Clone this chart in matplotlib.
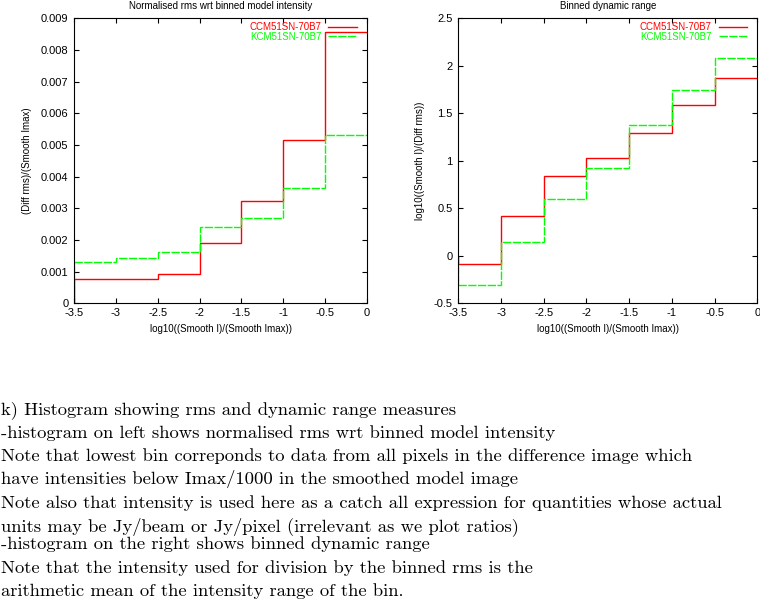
import numpy as np
import matplotlib
matplotlib.use('Agg')
import matplotlib.pyplot as plt

# bin edges in log10(Smooth I / Smooth Imax)
edges = [-3.5, -3.0, -2.5, -2.0, -1.5, -1.0, -0.5, 0.0]

# normalised rms per bin
rms_ccm = [0.00076, 0.00076, 0.00092, 0.00189, 0.00322, 0.00515, 0.00856]
rms_kcm = [0.00129, 0.00142, 0.00161, 0.00240, 0.00268, 0.00365, 0.00531]

# binned dynamic range per bin
dr_ccm = [-0.089, 0.416, 0.837, 1.026, 1.289, 1.584, 1.868]
dr_kcm = [-0.311, 0.142, 0.595, 0.921, 1.374, 1.742, 2.079]

labels = ['CCM51SN-70B7', 'KCM51SN-70B7']
xticks = [-3.5, -3, -2.5, -2, -1.5, -1, -0.5, 0]

caption = [
    'k) Histogram showing rms and dynamic range measures',
    '-histogram on left shows normalised rms wrt binned model intensity',
    'Note that lowest bin correponds to data from all pixels in the difference image which',
    'have intensities below Imax/1000 in the smoothed model image',
    'Note also that intensity is used here as a catch all expression for quantities whose actual',
    'units may be Jy/beam or Jy/pixel (irrelevant as we plot ratios)',
    '-histogram on the right shows binned dynamic range',
    'Note that the intensity used for division by the binned rms is the',
    'arithmetic mean of the intensity range of the bin.',
]
caption_y = [414, 437.7, 461, 484.3, 507.7, 531, 549.3, 572.7, 596]

plt.rcParams['font.family'] = ['Liberation Sans', 'DejaVu Sans']
plt.rcParams['font.size'] = 7

W, H = 760, 599
fig = plt.figure(figsize=(W / 100, H / 100), dpi=100)

def px_axes(x0, x1, y0, y1):
    return fig.add_axes([x0 / W, 1 - y1 / H, (x1 - x0) / W, (y1 - y0) / H])

ax1 = px_axes(74, 367, 18.3, 303.3)
ax2 = px_axes(458.3, 757.3, 18.3, 303.3)

RED = '#ff0000'
GREEN = '#00ff00'
green_dash = (0, (6, 1))

def style(ax):
    for s in ax.spines.values():
        s.set_linewidth(0.8)
        s.set_zorder(5)
    ax.tick_params(direction='in', top=True, right=True, length=3.6, width=0.8,
                   labelsize=8)
    ax.tick_params(axis='x', pad=3.5)
    ax.tick_params(axis='y', pad=4)
    ax.set_xlim(-3.5, 0)
    ax.set_xticks(xticks)
    ax.set_xticklabels(['%g' % t for t in xticks])

def histeps(ax, vals, color, ls, label):
    # steps with a rise from zero at the left edge, like gnuplot histeps
    ax.stairs(vals, edges, baseline=None, color=color, lw=1.0, ls=ls, label=label)
    ax.vlines(edges[0], 0, vals[0], color=color, lw=1.0, ls=ls)

histeps(ax1, rms_ccm, RED, '-', labels[0])
histeps(ax1, rms_kcm, GREEN, green_dash, labels[1])
ax1.set_ylim(0, 0.009)
ax1.set_yticks(np.arange(0, 0.0091, 0.001))
ax1.set_yticklabels(['0'] + ['%.3f' % v for v in np.arange(0.001, 0.0091, 0.001)])
style(ax1)
ax1.set_title('Normalised rms wrt binned model intensity', fontsize=7, pad=7)
ax1.set_xlabel('log10((Smooth I)/(Smooth Imax))', fontsize=7, labelpad=4)
ax1.set_ylabel('(Diff rms)/(Smooth Imax)', fontsize=7, labelpad=6)

histeps(ax2, dr_ccm, RED, '-', labels[0])
histeps(ax2, dr_kcm, GREEN, green_dash, labels[1])
ax2.set_ylim(-0.5, 2.5)
ax2.set_yticks([-0.5, 0, 0.5, 1, 1.5, 2, 2.5])
ax2.set_yticklabels(['-0.5', '0', '0.5', '1', '1.5', '2', '2.5'])
style(ax2)
ax2.set_title('Binned dynamic range', fontsize=7, pad=7)
ax2.set_xlabel('log10((Smooth I)/(Smooth Imax))', fontsize=7, labelpad=4)
ax2.set_ylabel('log10((Smooth I)/(Diff rms))', fontsize=7, labelpad=6)

for ax in (ax1, ax2):
    bw = ax.bbox.width
    bh = ax.bbox.height
    leg = ax.legend(loc='upper right', bbox_to_anchor=(1 - 10.5 / bw, 1 - 4 / bh),
                    markerfirst=False, frameon=False, fontsize=7,
                    handlelength=2.9, handletextpad=0.7, borderaxespad=0,
                    borderpad=0, labelspacing=-0.05, labelcolor='linecolor')
    for h in leg.legend_handles:
        h.set_linewidth(1.0)

for line, y in zip(caption, caption_y):
    fig.text(1 / W, 1 - y / H, line, family='cmr10', fontsize=13.4,
             ha='left', va='baseline')

fig.savefig('out.png', dpi=100)
